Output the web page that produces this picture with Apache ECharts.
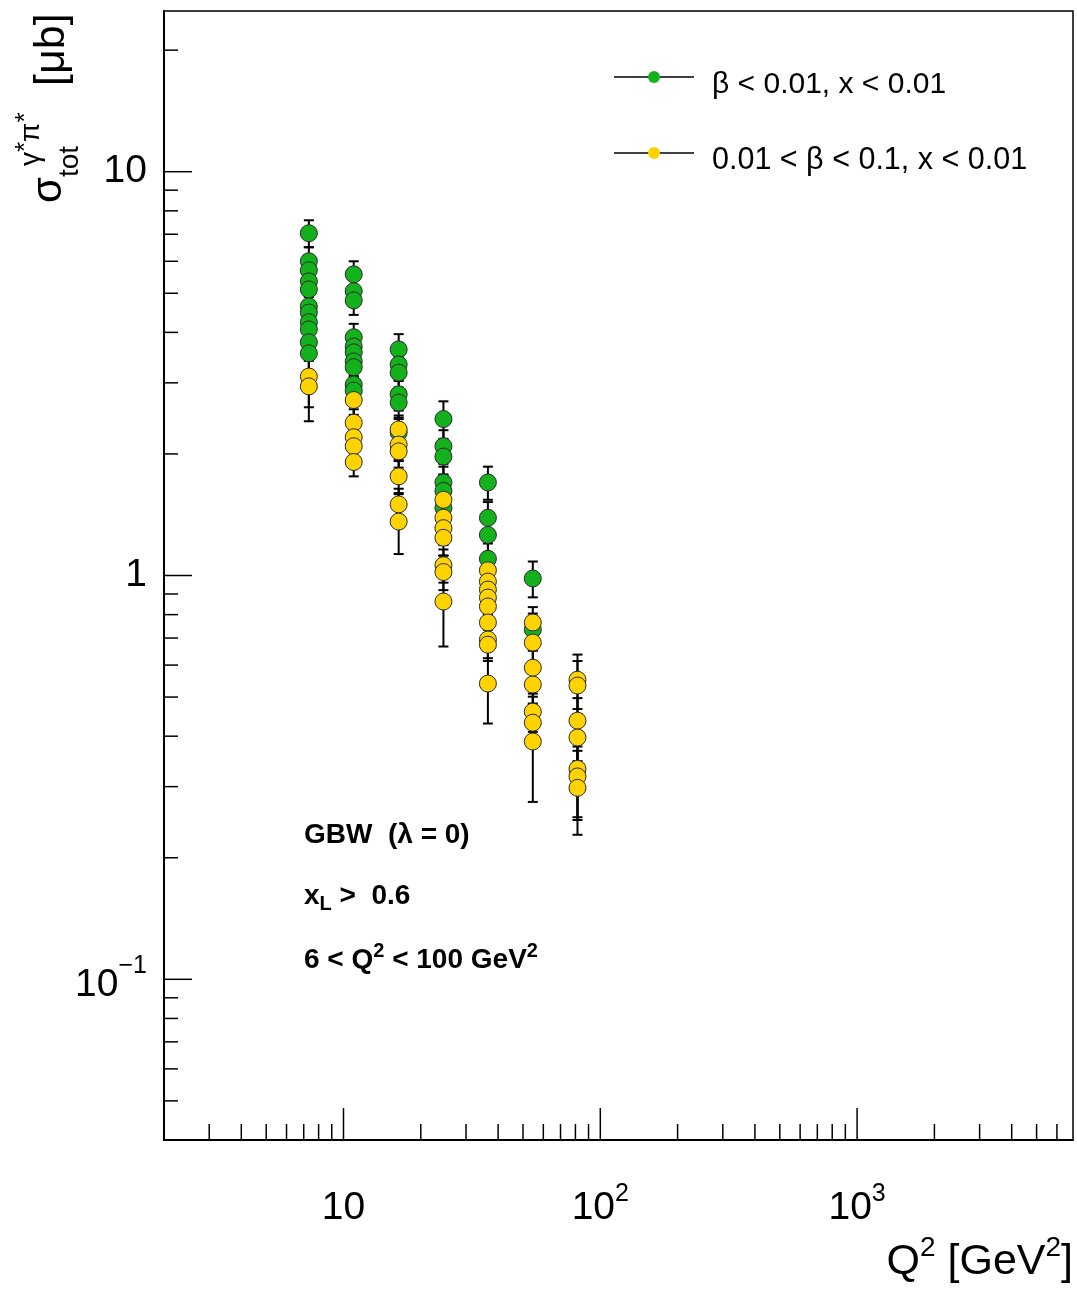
<!DOCTYPE html>
<html><head><meta charset="utf-8">
<script src="https://cdn.jsdelivr.net/npm/echarts@6/dist/echarts.min.js"></script>
<style>html,body{margin:0;padding:0;background:#fff}#c{width:1077px;height:1289px}</style>
</head><body><div id="c"></div>
<script>
// ---- data ----
const q2Bins = [7.33, 10.96, 16.4, 24.5, 36.5, 54.6, 81.5];
const greenSigma = [
  [7.04, 6.00, 5.70, 5.35, 5.11, 4.64, 4.48, 4.24, 4.07, 3.78, 3.55],
  [5.57, 5.06, 4.80, 3.89, 3.69, 3.57, 3.39, 3.28, 2.97, 2.87],
  [3.63, 3.33, 3.18, 2.81, 2.68, 2.26],
  [2.44, 2.09, 1.97, 1.70, 1.62, 1.47],
  [1.70, 1.39, 1.26, 1.10],
  [0.983, 0.735],
  []
];
const greenErr = [
  [0.54, 0.50, 0.50, 0.45, 0.45, 0.42, 0.42, 0.40, 0.40, 0.38, 0.36],
  [0.43, 0.40, 0.38, 0.31, 0.30, 0.29, 0.27, 0.26, 0.24, 0.23],
  [0.33, 0.30, 0.29, 0.25, 0.24, 0.20],
  [0.26, 0.20, 0.19, 0.16, 0.15, 0.14],
  [0.16, 0.13, 0.12, 0.10],
  [0.10, 0.07],
  []
];
const yellowSigma = [
  [3.11, 2.94],
  [2.72, 2.39, 2.20, 2.09, 1.91],
  [2.30, 2.11, 2.03, 1.76, 1.50, 1.36],
  [1.54, 1.39, 1.31, 1.24, 1.06, 1.02, 0.862],
  [1.03, 0.966, 0.923, 0.882, 0.838, 0.765, 0.694, 0.674, 0.540],
  [0.765, 0.682, 0.591, 0.537, 0.460, 0.432, 0.388],
  [0.552, 0.534, 0.437, 0.397, 0.332, 0.318, 0.298]
];
const yellowErr = [
  [0.50, 0.53],
  [0.22, 0.19, 0.18, 0.17, 0.15],
  [0.19, 0.18, 0.18, 0.16, 0.14, 0.23],
  [0.15, 0.13, 0.12, 0.12, 0.10, 0.10, 0.195],
  [0.10, 0.09, 0.09, 0.08, 0.08, 0.07, 0.07, 0.06, 0.11],
  [0.07, 0.07, 0.06, 0.06, 0.05, 0.05, 0.113],
  [0.085, 0.08, 0.06, 0.05, 0.08, 0.07, 0.07]
];
const xTickMajor = [10, 100, 1000];
const xTickMinor = [3, 4, 5, 6, 7, 8, 9, 20, 30, 40, 50, 60, 70, 80, 90, 200, 300, 400, 500, 600, 700, 800, 900, 2000, 3000, 4000, 5000, 6000];
const yTickMajor = [0.1, 1, 10];
const yTickMinor = [0.05, 0.06, 0.07, 0.08, 0.09, 0.2, 0.3, 0.4, 0.5, 0.6, 0.7, 0.8, 0.9, 2, 3, 4, 5, 6, 7, 8, 9, 20];
const seriesNames = ['\u03b2 < 0.01, x < 0.01', '0.01 < \u03b2 < 0.1, x < 0.01'];

// ---- chart ----
const X_MIN = 2, X_MAX = 6930, Y_MIN = 0.04, Y_MAX = 25;
const GREEN = '#13b11c', YELLOW = '#ffd300';
const FONT = '"Liberation Sans", Arial, Helvetica, sans-serif';

function flatten(sig, err) {
  const out = [];
  sig.forEach((arr, i) => arr.forEach((v, j) => out.push([q2Bins[i], v, err[i][j]])));
  return out;
}
const greenData = flatten(greenSigma, greenErr);
const yellowData = flatten(yellowSigma, yellowErr);

function errRender(params, api) {
  const x = api.value(0), y = api.value(1), e = api.value(2);
  const t = api.coord([x, y + e]), b = api.coord([x, y - e]);
  const cap = 5, st = { stroke: '#000', lineWidth: 2 };
  return { type: 'group', children: [
    { type: 'line', shape: { x1: t[0], y1: t[1], x2: b[0], y2: b[1] }, style: st },
    { type: 'line', shape: { x1: t[0] - cap, y1: t[1], x2: t[0] + cap, y2: t[1] }, style: st },
    { type: 'line', shape: { x1: b[0] - cap, y1: b[1], x2: b[0] + cap, y2: b[1] }, style: st }
  ]};
}
function xTickRender(len) {
  return function (params, api) {
    const p = api.coord([api.value(0), Y_MIN]);
    return { type: 'line', shape: { x1: p[0], y1: p[1], x2: p[0], y2: p[1] - len }, style: { stroke: '#000', lineWidth: 1.5 } };
  };
}
function yTickRender(len) {
  return function (params, api) {
    const p = api.coord([X_MIN, api.value(1)]);
    return { type: 'line', shape: { x1: p[0], y1: p[1], x2: p[0] + len, y2: p[1] }, style: { stroke: '#000', lineWidth: 1.5 } };
  };
}
function powLabel(v, shifted) {
  const e = Math.round(Math.log10(v));
  if (Math.abs(v - Math.pow(10, e)) > 1e-6 * v) return '';
  if (e === 0) return '{b|1}';
  if (e === 1) return '{b|10}';
  return '{' + (shifted ? 'c' : 'b') + '|10}{s|' + (e < 0 ? '\u2212' + (-e) : e) + '}';
}
const labelRich = {
  b: { fontSize: 39, fontFamily: FONT, color: '#000', lineHeight: 52 },
  c: { fontSize: 39, fontFamily: FONT, color: '#000', lineHeight: 52, padding: [12, 0, 0, 0] },
  s: { fontSize: 25, fontFamily: FONT, color: '#000', lineHeight: 24, verticalAlign: 'top' }
};

const chart = echarts.init(document.getElementById('c'), null, { renderer: 'canvas' });
chart.setOption({
  backgroundColor: '#fff',
  animation: false,
  grid: { left: 164, top: 11, width: 909, height: 1129, show: true, borderColor: '#000', borderWidth: 1.5, backgroundColor: 'transparent' },
  xAxis: {
    type: 'log', logBase: 10, min: X_MIN, max: X_MAX,
    axisLine: { show: true, lineStyle: { color: '#000', width: 2 } },
    axisTick: { show: false }, splitLine: { show: false }, minorTick: { show: false },
    axisLabel: { formatter: v => powLabel(v, false), rich: labelRich, margin: 42, showMinLabel: false, showMaxLabel: false, hideOverlap: false }
  },
  yAxis: {
    type: 'log', logBase: 10, min: Y_MIN, max: Y_MAX,
    axisLine: { show: true, lineStyle: { color: '#000', width: 2 } },
    axisTick: { show: false }, splitLine: { show: false }, minorTick: { show: false },
    axisLabel: { formatter: v => powLabel(v, true), rich: labelRich, margin: 17, showMinLabel: false, showMaxLabel: false, hideOverlap: false }
  },
  series: [
    { type: 'custom', name: 'xMajor', renderItem: xTickRender(32), data: xTickMajor.map(v => [v, Y_MIN]), silent: true, clip: false },
    { type: 'custom', name: 'xMinor', renderItem: xTickRender(16), data: xTickMinor.map(v => [v, Y_MIN]), silent: true, clip: false },
    { type: 'custom', name: 'yMajor', renderItem: yTickRender(28), data: yTickMajor.map(v => [X_MIN, v]), silent: true, clip: false },
    { type: 'custom', name: 'yMinor', renderItem: yTickRender(14), data: yTickMinor.map(v => [X_MIN, v]), silent: true, clip: false },
    { type: 'custom', name: seriesNames[0] + ' err', renderItem: errRender, data: greenData, encode: { x: 0, y: 1 }, silent: true },
    { type: 'scatter', name: seriesNames[0], data: greenData.map(d => [d[0], d[1]]), symbol: 'circle', symbolSize: 17,
      itemStyle: { color: GREEN, borderColor: '#2a2a2a', borderWidth: 1, opacity: 1 } },
    { type: 'custom', name: seriesNames[1] + ' err', renderItem: errRender, data: yellowData, encode: { x: 0, y: 1 }, silent: true },
    { type: 'scatter', name: seriesNames[1], data: yellowData.map(d => [d[0], d[1]]), symbol: 'circle', symbolSize: 17,
      itemStyle: { color: YELLOW, borderColor: '#2a2a2a', borderWidth: 1, opacity: 1 } }
  ],
  graphic: [
    // legend
    { type: 'line', shape: { x1: 614, y1: 77, x2: 694, y2: 77 }, style: { stroke: '#000', lineWidth: 1.5 } },
    { type: 'circle', shape: { cx: 654, cy: 77, r: 6 }, style: { fill: GREEN } },
    { type: 'text', x: 712, y: 85, style: { text: seriesNames[0], font: '30px ' + FONT, fill: '#000', textAlign: 'left', textVerticalAlign: 'middle' } },
    { type: 'line', shape: { x1: 614, y1: 153, x2: 694, y2: 153 }, style: { stroke: '#000', lineWidth: 1.5 } },
    { type: 'circle', shape: { cx: 654, cy: 153, r: 6 }, style: { fill: YELLOW } },
    { type: 'text', x: 712, y: 161, style: { text: seriesNames[1], font: '30.5px ' + FONT, fill: '#000', textAlign: 'left', textVerticalAlign: 'middle' } },
    // annotations
    { type: 'text', x: 304, y: 835, style: { text: 'GBW  (\u03bb = 0)', font: 'bold 28px ' + FONT, fill: '#000', textAlign: 'left', textVerticalAlign: 'middle' } },
    { type: 'text', x: 304, y: 896, style: { text: '{a|x}{l|L}{a| >  0.6}', textAlign: 'left', textVerticalAlign: 'middle',
      rich: { a: { fontSize: 28, fontWeight: 'bold', fontFamily: FONT, fill: '#000', lineHeight: 36 }, l: { fontSize: 20, fontWeight: 'bold', fontFamily: FONT, fill: '#000', lineHeight: 20, verticalAlign: 'bottom' } } } },
    { type: 'text', x: 304, y: 960, style: { text: '{a|6 < Q}{p|2}{a| < 100 GeV}{p|2}', textAlign: 'left', textVerticalAlign: 'middle',
      rich: { a: { fontSize: 28, fontWeight: 'bold', fontFamily: FONT, fill: '#000', lineHeight: 38 }, p: { fontSize: 20, fontWeight: 'bold', fontFamily: FONT, fill: '#000', lineHeight: 20, verticalAlign: 'top' } } } },
    // x axis title
    { type: 'text', x: 1073, y: 1262, style: { text: '{b|Q}{s|2}{b| [GeV}{s|2}{b|]}', textAlign: 'right', textVerticalAlign: 'middle',
      rich: { b: { fontSize: 43, fontFamily: FONT, fill: '#000', lineHeight: 56 }, s: { fontSize: 28, fontFamily: FONT, fill: '#000', lineHeight: 28, verticalAlign: 'top' } } } },
    // y axis title (rotated)
    { type: 'text', x: 49, y: 203, rotation: Math.PI / 2, style: { text: '\u03c3', font: '42px ' + FONT, fill: '#000', textAlign: 'left', textVerticalAlign: 'middle' } },
    { type: 'text', x: 70, y: 177, rotation: Math.PI / 2, style: { text: 'tot', font: '28px ' + FONT, fill: '#000', textAlign: 'left', textVerticalAlign: 'middle' } },
    { type: 'text', x: 31, y: 166, rotation: Math.PI / 2, style: { text: '{g|\u03b3}{t|*}{g|\u03c0}{t|*}', textAlign: 'left', textVerticalAlign: 'middle',
      rich: { g: { fontSize: 28, fontFamily: FONT, fill: '#000', lineHeight: 36 }, t: { fontSize: 26, fontFamily: FONT, fill: '#000', lineHeight: 24, verticalAlign: 'top' } } } },
    { type: 'text', x: 52, y: 86, rotation: Math.PI / 2, style: { text: '[\u03bcb]', font: '43px ' + FONT, fill: '#000', textAlign: 'left', textVerticalAlign: 'middle' } }
  ]
});
</script>
</body></html>
